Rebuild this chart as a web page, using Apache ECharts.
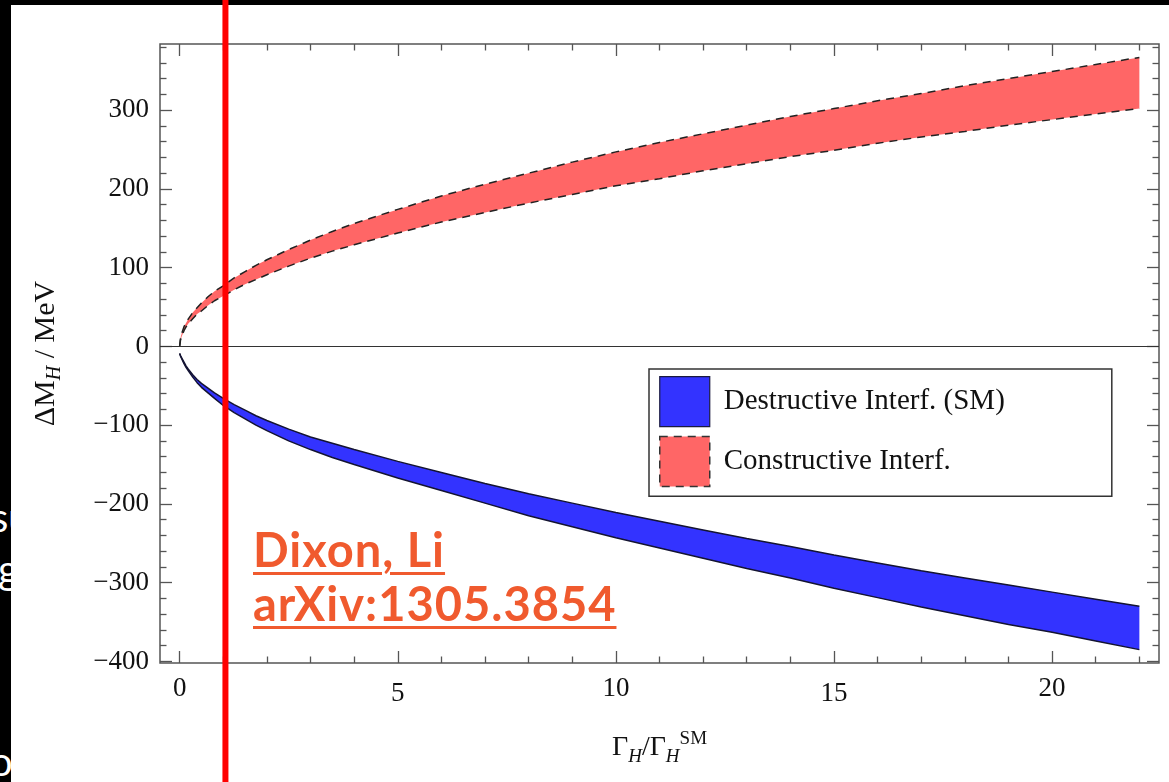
<!DOCTYPE html>
<html>
<head>
<meta charset="utf-8">
<title>Higgs mass shift vs width</title>
<script src="https://cdn.jsdelivr.net/npm/echarts@6/dist/echarts.min.js"></script>
<style>
  html, body { margin: 0; padding: 0; background: #ffffff; }
  body { width: 1169px; height: 782px; position: relative; overflow: hidden; }
  #stripTop { position: absolute; left: 0; top: 0; width: 1169px; height: 5px; background: #000; }
  #stripLeft { position: absolute; left: 0; top: 0; width: 11px; height: 782px; background: #000; overflow: hidden; }
  .frag { position: absolute; color: #fff; font-family: Lato, 'Noto Sans', sans-serif; font-size: 40px; line-height: 40px; white-space: nowrap; }
  #chart { position: absolute; left: 0; top: 0; width: 1169px; height: 782px; }
  #cite { position: absolute; left: 253px; top: 522px; color: #F05A2E; font-family: Lato, 'Noto Sans', sans-serif;
          font-weight: 700; font-size: 47px; line-height: 54px; letter-spacing: 1px; white-space: nowrap;
          text-decoration: underline; text-decoration-thickness: 3px; text-underline-offset: 5px; }
</style>
</head>
<body>
<div id="stripTop"></div>
<div id="stripLeft">
  <div class="frag" style="left:-9px; top:497px;">su</div>
  <div class="frag" style="left:-2px; top:549px;">g</div>
  <div class="frag" style="left:-10px; top:741px;">ol</div>
</div>
<div id="chart"></div>
<div id="cite">Dixon, Li<br>arXiv:1305.3854</div>
<script>
// Γ_H / Γ_H^SM sample points
const widthRatio = [0, 0.02, 0.05, 0.1, 0.15, 0.2, 0.3, 0.4, 0.5, 0.65, 0.8, 1, 1.25, 1.5, 1.75, 2, 2.5, 3, 3.5, 4,
                    5, 6, 7, 8, 9, 10, 11, 12, 13, 14, 15, 16, 17, 18, 19, 20, 21, 22];

// ΔM_H (MeV), constructive interference band edges
const constructiveUpper = [0, 11, 17, 25, 30, 35, 43, 49, 55, 63, 70, 77, 87, 95, 103, 110, 123, 135, 146, 156,
                           174, 191, 206, 220, 234, 247, 259, 270, 281, 292, 302, 312, 321, 331, 340, 349, 358, 367];
const constructiveLower = [0, 8, 13, 20, 25, 29, 35, 41, 45, 52, 58, 64, 72, 79, 85, 91, 102, 112, 121, 129,
                           144, 158, 170, 182, 193, 204, 213, 223, 232, 241, 249, 258, 266, 273, 281, 288, 295, 302];

// ΔM_H (MeV), destructive interference (SM) band edges
const destructiveUpper = [-9, -12, -15, -20, -25, -29, -36, -42, -47, -53, -59, -66, -74, -81, -88, -94, -105, -115, -123, -131,
                          -146, -160, -174, -187, -199, -211, -222, -233, -244, -254, -265, -275, -285, -294, -303, -312, -321, -330];
const destructiveLower = [-9, -12, -16, -22, -27, -31, -39, -46, -52, -59, -66, -75, -84, -92, -100, -107, -120, -131, -141, -150,
                          -167, -183, -199, -215, -229, -243, -256, -269, -282, -294, -307, -319, -331, -342, -353, -363, -374, -385];

// Axis ticks
const xMajorTicks = [0, 5, 10, 15, 20];
const yMajorTicks = [-400, -300, -200, -100, 0, 100, 200, 300];
const xRange = [-0.45, 22.45];
const yRange = [-402, 384];

// Reference marker at Γ_H = Γ_H^SM
const markerRatio = 1.05;

const seriesNames = ['Destructive Interf. (SM)', 'Constructive Interf.'];

function minorTicks(from, to, step, majors) {
  const out = [];
  for (let v = from; v <= to + 1e-9; v += step) {
    const r = Math.round(v * 1000) / 1000;
    if (majors.indexOf(r) < 0) out.push(r);
  }
  return out;
}
const xMinorTicks = minorTicks(0, 22, 1, xMajorTicks);
const yMinorTicks = minorTicks(-400, 380, 20, yMajorTicks);

const serif = "'Liberation Serif', 'DejaVu Serif', serif";
const frameColor = '#555';
const tickStyle = { color: frameColor, width: 1.3 };

function pairs(xs, ys) { return xs.map((x, i) => [x, ys[i]]); }
function bandRows(xs, lo, hi) { return xs.map((x, i) => [x, lo[i], hi[i]]); }

function xAxisDef(position, ticks, len, labels) {
  return {
    type: 'value', position: position, min: xRange[0], max: xRange[1],
    axisLine: { show: false, onZero: false }, splitLine: { show: false },
    axisTick: { show: true, inside: true, length: len, customValues: ticks, lineStyle: tickStyle },
    axisLabel: labels ? {
      show: true, customValues: ticks, margin: 12, fontFamily: serif, fontSize: 27, color: '#111',
      formatter: v => (v % 10 === 5 ? '{lo|' + v + '}' : '{n|' + v + '}'),
      rich: {
        n: { fontFamily: serif, fontSize: 27, color: '#111' },
        lo: { fontFamily: serif, fontSize: 27, color: '#111', padding: [5, 0, 0, 0] }
      }
    } : { show: false }
  };
}
function yAxisDef(position, ticks, len, labels) {
  return {
    type: 'value', position: position, min: yRange[0], max: yRange[1],
    axisLine: { show: false, onZero: false }, splitLine: { show: false },
    axisTick: { show: true, inside: true, length: len, customValues: ticks, lineStyle: tickStyle },
    axisLabel: labels ? {
      show: true, customValues: ticks, margin: 11, fontFamily: serif, fontSize: 27, color: '#111',
      formatter: v => (v < 0 ? '\u2212' + Math.abs(v) : String(v))
    } : { show: false }
  };
}

const xMainAxis = xAxisDef('bottom', xMajorTicks, 12, true);
xMainAxis.name = '{g|Γ}{s|H}{g|/Γ}{s|H}{p|SM}';
xMainAxis.nameLocation = 'middle';
xMainAxis.nameGap = 67;
xMainAxis.nameTextStyle = {
  rich: {
    g: { fontFamily: serif, fontSize: 28, color: '#111', lineHeight: 36 },
    s: { fontFamily: serif, fontSize: 19, fontStyle: 'italic', color: '#111', lineHeight: 20, verticalAlign: 'bottom' },
    p: { fontFamily: serif, fontSize: 19, color: '#111', lineHeight: 20, verticalAlign: 'top' }
  }
};

const yMainAxis = yAxisDef('left', yMajorTicks, 12, true);
yMainAxis.name = '{g|ΔM}{s|H}{g| / MeV}';
yMainAxis.nameLocation = 'middle';
yMainAxis.nameRotate = 90;
yMainAxis.nameGap = 95;
yMainAxis.nameTextStyle = {
  rich: {
    g: { fontFamily: serif, fontSize: 30, color: '#111', lineHeight: 38 },
    s: { fontFamily: serif, fontSize: 20, fontStyle: 'italic', color: '#111', lineHeight: 21, verticalAlign: 'bottom' }
  }
};

const bandBlue = '#3333FF';
const bandRed = '#FF6666';
const solidEdge = { color: '#141432', width: 1.5, type: 'solid' };
const dashedEdge = { color: '#222', width: 1.5, type: [8, 6] };

// Filled band between two edges, drawn as one polygon through the axis scales
function bandSeries(name, rows, color) {
  return {
    type: 'custom', name: name, xAxisIndex: 0, yAxisIndex: 0, silent: true, clip: true, z: 2,
    itemStyle: { color: color },
    encode: { x: 0, y: [1, 2] },
    data: rows,
    renderItem: function (params, api) {
      if (params.dataIndex !== 0) return null;
      const pts = [];
      for (let i = 0; i < rows.length; i++) pts.push(api.coord([rows[i][0], rows[i][1]]));
      for (let i = rows.length - 1; i >= 0; i--) pts.push(api.coord([rows[i][0], rows[i][2]]));
      return { type: 'polygon', shape: { points: pts }, style: { fill: color, stroke: null } };
    }
  };
}
function edgeSeries(name, data, lineStyle) {
  return {
    type: 'line', name: name, xAxisIndex: 0, yAxisIndex: 0, showSymbol: false, symbol: 'none',
    silent: true, emphasis: { disabled: true }, z: 3, data: data, lineStyle: lineStyle
  };
}

const chart = echarts.init(document.getElementById('chart'), null, { renderer: 'canvas' });

const zeroLineSeries = edgeSeries('destructive-upper', pairs(widthRatio, destructiveUpper), solidEdge);
zeroLineSeries.markLine = {
  silent: true, symbol: ['none', 'none'], label: { show: false },
  lineStyle: { color: '#333', width: 1.2, type: 'solid' },
  emphasis: { disabled: true },
  data: [{ yAxis: 0 }]
};

chart.setOption({
  animation: false,
  backgroundColor: 'transparent',
  grid: { left: 160, right: 10, top: 44, bottom: 119, containLabel: false, outerBoundsMode: 'none',
          show: true, borderColor: frameColor, borderWidth: 1.5, backgroundColor: 'transparent' },
  xAxis: [
    xMainAxis,
    xAxisDef('bottom', xMinorTicks, 6.5, false),
    xAxisDef('top', xMajorTicks, 12, false),
    xAxisDef('top', xMinorTicks, 6.5, false)
  ],
  yAxis: [
    yMainAxis,
    yAxisDef('left', yMinorTicks, 6.5, false),
    yAxisDef('right', yMajorTicks, 12, false),
    yAxisDef('right', yMinorTicks, 6.5, false)
  ],
  legend: {
    show: true, selectedMode: false, orient: 'vertical', left: 649, top: 369,
    itemWidth: 50, itemHeight: 50, itemGap: 8.5, icon: 'rect',
    padding: [7, 107, 9, 10], backgroundColor: '#fff', borderColor: '#333', borderWidth: 1.5, borderRadius: 0,
    textStyle: { fontFamily: serif, fontSize: 29, color: '#111', padding: [0, 0, 0, 9] },
    data: [
      { name: seriesNames[0], icon: 'rect', itemStyle: { color: bandBlue, borderColor: '#1a1a40', borderWidth: 1.2 } },
      { name: seriesNames[1], icon: 'rect', itemStyle: { color: bandRed, borderColor: '#333', borderWidth: 1.5, borderType: [8, 6] } }
    ]
  },
  series: [
    bandSeries(seriesNames[0], bandRows(widthRatio, destructiveLower, destructiveUpper), bandBlue),
    bandSeries(seriesNames[1], bandRows(widthRatio, constructiveLower, constructiveUpper), bandRed),
    zeroLineSeries,
    edgeSeries('destructive-lower', pairs(widthRatio, destructiveLower), solidEdge),
    edgeSeries('constructive-upper', pairs(widthRatio, constructiveUpper), dashedEdge),
    edgeSeries('constructive-lower', pairs(widthRatio, constructiveLower), dashedEdge)
  ]
});

// Vertical marker line through the whole figure at the SM width
const markerX = chart.convertToPixel({ xAxisIndex: 0 }, markerRatio);
chart.setOption({
  graphic: [{
    type: 'rect', silent: true, z: 100,
    shape: { x: markerX - 3, y: 0, width: 6, height: 782 },
    style: { fill: '#FF0000' }
  }]
});
</script>
</body>
</html>
